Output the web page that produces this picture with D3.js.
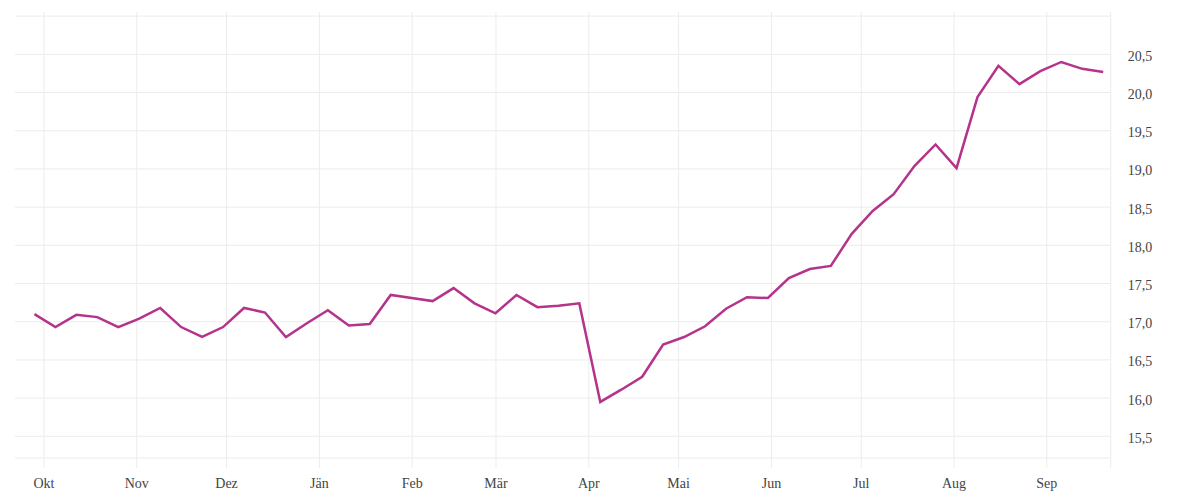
<!DOCTYPE html>
<html>
<head>
<meta charset="utf-8">
<script src="https://cdn.jsdelivr.net/npm/d3@7"></script>
<style>
  html, body { margin: 0; padding: 0; background: #fff; }
  svg { display: block; }
  .tick text { font-family: "Liberation Serif", serif; font-size: 14px; fill: #444; }
</style>
</head>
<body>
<svg id="chart" width="1200" height="500"></svg>
<script>
const dates = [
  "2022-09-28","2022-10-05","2022-10-12","2022-10-19","2022-10-26",
  "2022-11-02","2022-11-09","2022-11-16","2022-11-23","2022-11-30",
  "2022-12-07","2022-12-14","2022-12-21","2022-12-28",
  "2023-01-04","2023-01-11","2023-01-18","2023-01-25",
  "2023-02-01","2023-02-08","2023-02-15","2023-02-22",
  "2023-03-01","2023-03-08","2023-03-15","2023-03-22","2023-03-29",
  "2023-04-05","2023-04-12","2023-04-19","2023-04-26",
  "2023-05-03","2023-05-10","2023-05-17","2023-05-24","2023-05-31",
  "2023-06-07","2023-06-14","2023-06-21","2023-06-28",
  "2023-07-05","2023-07-12","2023-07-19","2023-07-26",
  "2023-08-02","2023-08-09","2023-08-16","2023-08-23","2023-08-30",
  "2023-09-06","2023-09-13","2023-09-20"
];
const values = [
  17.10, 16.93, 17.09, 17.06, 16.93,
  17.04, 17.18, 16.93, 16.80, 16.93,
  17.18, 17.12, 16.80, 16.98,
  17.15, 16.95, 16.97, 17.35,
  17.31, 17.27, 17.44, 17.24,
  17.11, 17.35, 17.19, 17.21, 17.24,
  15.95, 16.11, 16.28, 16.70,
  16.80, 16.94, 17.17, 17.32, 17.31,
  17.57, 17.69, 17.73, 18.15,
  18.45, 18.67, 19.04, 19.32,
  19.01, 19.94, 20.35, 20.11, 20.28,
  20.40, 20.31, 20.27
];
// month names indexed by calendar month (0 = January)
const monthLabels = ["Jän","Feb","Mär","Apr","Mai","Jun","Jul","Aug","Sep","Okt","Nov","Dez"];
const yTicks = [15.5, 16.0, 16.5, 17.0, 17.5, 18.0, 18.5, 19.0, 19.5, 20.0, 20.5];
const yGridExtra = [21.0];

const svg = d3.select("#chart");
const mLeft = 15, mRight = 1110.7, mTop = 12, mBottom = 458, tickBottom = 468;
const gridColor = "#ececec";

const parse = d3.utcParse("%Y-%m-%d");
const data = dates.map((d, i) => ({ date: parse(d), value: values[i] }));

const x = d3.scaleUtc()
  .domain([Date.UTC(2022, 8, 21, 12), Date.UTC(2023, 8, 22, 12)])
  .range([mLeft, mRight]);

const y = d3.scaleLinear()
  .domain([15.216, 21.054])
  .range([mBottom, mTop]);

// horizontal gridlines
const yGrid = yTicks.concat(yGridExtra);
svg.append("g")
  .selectAll("line")
  .data(yGrid)
  .join("line")
  .attr("x1", mLeft).attr("x2", mRight)
  .attr("y1", d => y(d)).attr("y2", d => y(d))
  .attr("stroke", gridColor).attr("stroke-width", 1);

// baseline
svg.append("line")
  .attr("x1", mLeft).attr("x2", mRight)
  .attr("y1", mBottom).attr("y2", mBottom)
  .attr("stroke", gridColor).attr("stroke-width", 1);

// vertical month gridlines + labels via axis
const monthTicks = x.ticks(d3.utcMonth.every(1));
const xAxis = d3.axisBottom(x)
  .tickValues(monthTicks)
  .tickSize(tickBottom - mTop)
  .tickFormat(d => monthLabels[d.getUTCMonth()]);

const gx = svg.append("g")
  .attr("transform", `translate(0,${mTop})`)
  .call(xAxis);
gx.select(".domain").remove();
gx.selectAll(".tick line").attr("stroke", gridColor);
gx.selectAll(".tick text").attr("y", 478 - mTop).attr("dy", "0.71em");

// right border line
svg.append("line")
  .attr("x1", mRight).attr("x2", mRight)
  .attr("y1", mTop).attr("y2", tickBottom)
  .attr("stroke", gridColor).attr("stroke-width", 1);

// y axis labels on the right
const yAxis = d3.axisRight(y)
  .tickValues(yTicks)
  .tickSize(0)
  .tickPadding(17)
  .tickFormat(d => d.toFixed(1).replace(".", ","));
const gy = svg.append("g")
  .attr("transform", `translate(${mRight},0)`)
  .call(yAxis);
gy.select(".domain").remove();
gy.selectAll(".tick text").attr("dy", "0.32em").attr("y", 1.5);

// line
const line = d3.line()
  .x(d => x(d.date))
  .y(d => y(d.value));

svg.append("path")
  .datum(data)
  .attr("fill", "none")
  .attr("stroke", "#b5338a")
  .attr("stroke-width", 2.5)
  .attr("d", line);
</script>
</body>
</html>
